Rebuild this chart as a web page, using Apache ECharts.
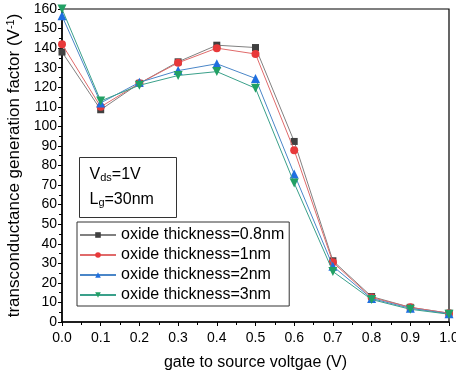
<!DOCTYPE html>
<html><head><meta charset="utf-8">
<script src="https://cdn.jsdelivr.net/npm/echarts@6/dist/echarts.min.js"></script>
<style>html,body{margin:0;padding:0;background:#fff}#c{width:456px;height:376px}</style>
</head><body><div id="c"></div>
<script>
var xValues = [0.0, 0.1, 0.2, 0.3, 0.4, 0.5, 0.6, 0.7, 0.8, 0.9, 1.0];
var seriesNames = ['oxide thickness=0.8nm', 'oxide thickness=1nm', 'oxide thickness=2nm', 'oxide thickness=3nm'];
var t08 = [138, 108.5, 122, 133, 141.5, 140.3, 92.3, 31.3, 13, 7.5, 4.5];
var t1  = [142, 110, 122, 132.5, 140, 137, 87.8, 30.5, 12.5, 7.5, 4.5];
var t2  = [156.5, 112, 122.5, 128.5, 132, 124.5, 75.7, 28.5, 12, 7, 4.2];
var t3  = [160, 113, 121, 126, 128, 119.5, 71, 25.8, 11.5, 6.5, 4];
var yTicks = {min: 0, max: 160, interval: 10};
var xTicks = {min: 0, max: 1, interval: 0.1};

var colors = ['#404040', '#e8393a', '#1f6fe0', '#22a064'];
var lineColors = ['#808080', '#e06a6a', '#4a86c8', '#3aa08a'];
var symbols = ['rect', 'circle', 'triangle', 'triangle'];
var rots = [0, 0, 0, 180];
var datasets = [t08, t1, t2, t3];

var chart = echarts.init(document.getElementById('c'));
var font = 'Liberation Sans, Arial, sans-serif';
chart.setOption({
  animation: false,
  grid: {left: 62, right: 7, top: 9, bottom: 54, outerBoundsMode: 'none', containLabel: false, show: true, borderColor: '#000', borderWidth: 1.2, backgroundColor: 'transparent'},
  xAxis: {
    type: 'value', min: xTicks.min, max: xTicks.max, interval: xTicks.interval,
    name: 'gate to source voltgae (V)', nameLocation: 'middle', nameGap: 33,
    nameTextStyle: {fontFamily: font, fontSize: 16, color: '#000'},
    axisLine: {lineStyle: {color: '#000', width: 1.5}},
    axisTick: {show: true, length: 4, lineStyle: {color: '#000'}},
    minorTick: {show: true, splitNumber: 2, length: 3, lineStyle: {color: '#000'}},
    splitLine: {show: false},
    axisLabel: {fontFamily: font, fontSize: 14, color: '#000', margin: 9, formatter: function(v){return v.toFixed(1);}}
  },
  yAxis: {
    type: 'value', min: yTicks.min, max: yTicks.max, interval: yTicks.interval,
    name: 'transconductance generation factor (V{sup|-1})', nameLocation: 'middle', nameGap: 31,
    nameTextStyle: {fontFamily: font, fontSize: 17, color: '#000', rich: {sup: {fontSize: 11, verticalAlign: 'top', padding: [0,0,7,0], fontFamily: font}}},
    axisLine: {show: true, lineStyle: {color: '#000', width: 1.5}},
    axisTick: {show: true, length: 4, lineStyle: {color: '#000'}},
    minorTick: {show: true, splitNumber: 2, length: 3, lineStyle: {color: '#000'}},
    splitLine: {show: false},
    axisLabel: {fontFamily: font, fontSize: 14, color: '#000', margin: 5}
  },
  legend: {
    orient: 'vertical', left: 77, top: 222, padding: [4, 5, 2, 2], itemGap: 2,
    itemWidth: 36, itemHeight: 7,
    backgroundColor: '#fff', borderColor: '#333', borderWidth: 1,
    textStyle: {fontFamily: font, fontSize: 16, color: '#000', lineHeight: 18},
    data: seriesNames
  },
  graphic: [{
    type: 'group', left: 79, top: 157,
    children: [
      {type: 'rect', shape: {x: 0, y: 0, width: 97, height: 60}, style: {fill: '#fff', stroke: '#333', lineWidth: 1}},
      {type: 'text', x: 10, y: 8, style: {text: 'V{sub|ds}=1V', fontFamily: font, fontSize: 16, fill: '#000', rich: {sub: {fontSize: 11, verticalAlign: 'bottom', padding: [7,0,0,0], fontFamily: font}}}},
      {type: 'text', x: 10, y: 33, style: {text: 'L{sub|g}=30nm', fontFamily: font, fontSize: 16, fill: '#000', rich: {sub: {fontSize: 11, verticalAlign: 'bottom', padding: [7,0,0,0], fontFamily: font}}}}
    ]
  }],
  series: datasets.map(function(d, i){
    return {
      name: seriesNames[i], type: 'line',
      data: xValues.map(function(x, j){ return [x, d[j]]; }),
      symbol: symbols[i], symbolSize: i === 1 ? 8 : (i >= 2 ? 9 : 7), symbolRotate: rots[i],
      itemStyle: {color: colors[i]},
      lineStyle: {color: lineColors[i], width: 1},
      z: 2 + i
    };
  })
});
</script></body></html>
